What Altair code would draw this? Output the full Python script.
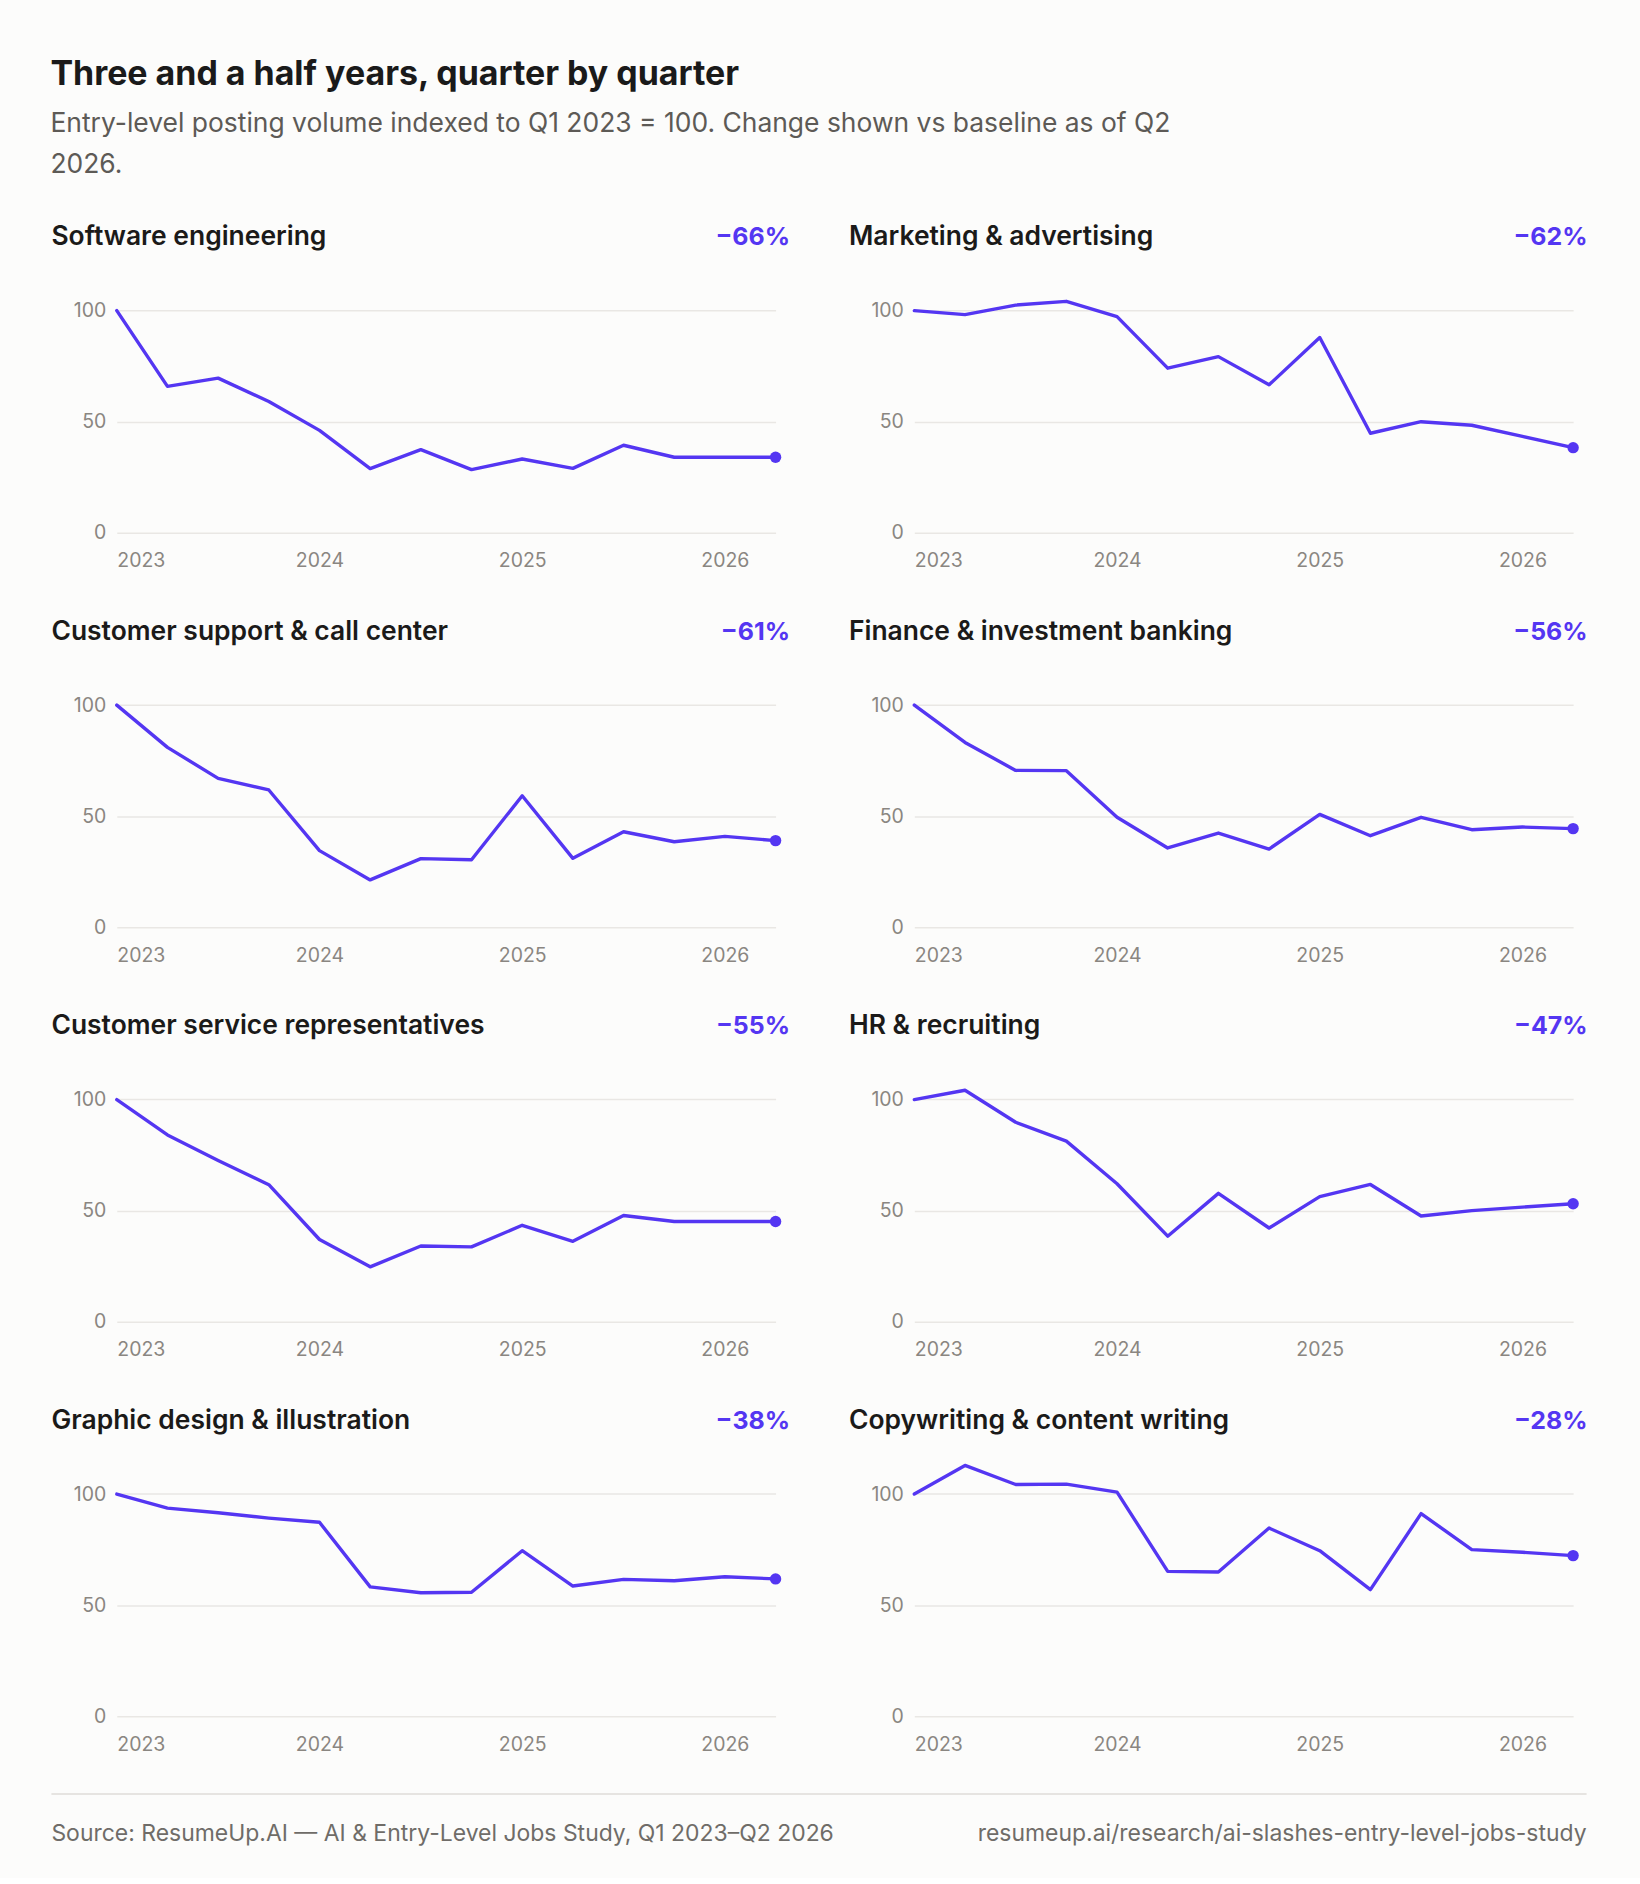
import altair as alt
import pandas as pd

# ---------------- data ----------------
quarter_labels = ["Q1 2023", "Q2 2023", "Q3 2023", "Q4 2023",
                  "Q1 2024", "Q2 2024", "Q3 2024", "Q4 2024",
                  "Q1 2025", "Q2 2025", "Q3 2025", "Q4 2025",
                  "Q1 2026", "Q2 2026"]
quarter_pos = [2023.0, 2023.25, 2023.5, 2023.75,
               2024.0, 2024.25, 2024.5, 2024.75,
               2025.0, 2025.25, 2025.5, 2025.75,
               2026.0, 2026.25]

categories = ["Software engineering", "Marketing & advertising",
              "Customer support & call center", "Finance & investment banking",
              "Customer service representatives", "HR & recruiting",
              "Graphic design & illustration", "Copywriting & content writing"]
changes = ["\u221266%", "\u221262%", "\u221261%", "\u221256%",
           "\u221255%", "\u221247%", "\u221238%", "\u221228%"]

software = [100, 65.9, 69.6, 59.1, 46.1, 28.9, 37.4, 28.4, 33.2, 29.0, 39.4, 34.0, 34.0, 34.0]
marketing = [100, 98.2, 102.5, 104.2, 97.3, 74.1, 79.3, 66.6, 87.9, 44.8, 50.0, 48.4, 43.4, 38.3]
support = [100, 81.0, 67.0, 61.8, 34.5, 21.3, 30.9, 30.4, 59.2, 31.0, 43.0, 38.5, 40.9, 39.0]
finance = [100, 83.2, 70.6, 70.5, 49.5, 35.7, 42.4, 35.2, 50.8, 41.2, 49.5, 43.9, 45.1, 44.4]
csr = [100, 84.1, 72.6, 61.7, 37.0, 24.7, 34.1, 33.7, 43.4, 36.2, 47.8, 45.1, 45.1, 45.1]
hr = [100, 104.2, 89.8, 81.3, 62.1, 38.5, 57.8, 42.2, 56.3, 61.8, 47.6, 50.0, 51.6, 53.1]
graphic = [100, 93.7, 91.6, 89.2, 87.3, 58.2, 55.6, 55.8, 74.5, 58.6, 61.6, 61.0, 62.8, 61.8]
copywriting = [100, 112.9, 104.3, 104.5, 100.9, 65.2, 64.9, 84.7, 74.5, 57.0, 91.2, 75.0, 73.8, 72.3]

series = [software, marketing, support, finance, csr, hr, graphic, copywriting]

year_ticks = [2023, 2024, 2025, 2026]
y_ticks = [0, 50, 100]

title_text = "Three and a half years, quarter by quarter"
subtitle_lines = ["Entry-level posting volume indexed to Q1 2023 = 100. Change shown vs baseline as of Q2",
                  "2026."]
source_text = "Source: ResumeUp.AI \u2014 AI & Entry-Level Jobs Study, Q1 2023\u2013Q2 2026"
url_text = "resumeup.ai/research/ai-slashes-entry-level-jobs-study"

# ---------------- tables ----------------
rows = []
for cat, vals in zip(categories, series):
    for lab, pos, v in zip(quarter_labels, quarter_pos, vals):
        rows.append({"category": cat, "quarter": pos, "qlabel": lab, "value": v})
df = pd.DataFrame(rows)
info_df = pd.DataFrame({"category": categories, "change": changes})
footer_df = pd.DataFrame({"left": [source_text], "right": [url_text]})

# ---------------- styling ----------------
PURPLE = "#5436f2"
FONT = "Inter"
W, H = 660, 267
LEFT_EXT = 65.5           # panel title starts this far left of the plot area
FULL_W = 1538             # width of the content column


def panel(name):
    x = alt.X("quarter:Q",
              scale=alt.Scale(domain=[2023, 2026.25], nice=False, zero=False),
              axis=alt.Axis(values=year_ticks, format="d", labelFlush=True, grid=False,
                            domain=False, ticks=False, labelPadding=19, title=None))
    y = alt.Y("value:Q",
              scale=alt.Scale(domain=[0, 120], nice=False),
              axis=alt.Axis(values=y_ticks, grid=True, domain=False, ticks=False,
                            labelPadding=11, title=None))
    base = alt.Chart(df).transform_filter(alt.datum.category == name)
    line = base.mark_line(color=PURPLE, strokeWidth=3.4, strokeJoin="round",
                          strokeCap="round").encode(x=x, y=y)
    dot = base.transform_filter(alt.datum.qlabel == "Q2 2026").mark_circle(
        color=PURPLE, size=130, opacity=1).encode(x=x, y=y)
    info = alt.Chart(info_df).transform_filter(alt.datum.category == name)
    ttl = info.mark_text(align="left", baseline="middle", font=FONT, fontSize=26.5,
                         fontWeight=600, color="#1b1a19").encode(
        x=alt.value(-LEFT_EXT), y=alt.value(-29), text="category:N")
    pct = info.mark_text(align="right", baseline="middle", font=FONT, fontSize=25,
                         fontWeight=700, color=PURPLE).encode(
        x=alt.value(674.5), y=alt.value(-29), text="change:N")
    return alt.layer(line, dot, ttl, pct).properties(width=W, height=H)


grid_rows = []
for r in range(4):
    grid_rows.append(alt.hconcat(panel(categories[2 * r]), panel(categories[2 * r + 1]),
                                 spacing=58))
grid = alt.vconcat(*grid_rows, spacing=48.2)

fbase = alt.Chart(footer_df)
frule = fbase.mark_rule(color="#e6e4e1", strokeWidth=2).encode(
    x=alt.value(-LEFT_EXT), x2=alt.value(FULL_W - LEFT_EXT), y=alt.value(0))
fleft = fbase.mark_text(align="left", baseline="middle", font=FONT, fontSize=23,
                        color="#6f6c68").encode(x=alt.value(-LEFT_EXT), y=alt.value(40),
                                                text="left:N")
fright = fbase.mark_text(align="right", baseline="middle", font=FONT, fontSize=23,
                         color="#6f6c68").encode(x=alt.value(FULL_W - LEFT_EXT), y=alt.value(40),
                                                 text="right:N")
footer = alt.layer(frule, fleft, fright).properties(width=FULL_W - 2 * LEFT_EXT, height=50)

chart = alt.vconcat(grid, footer, spacing=38.5).properties(
    title=alt.TitleParams(
        text=title_text, subtitle=subtitle_lines, anchor="start", frame="bounds",
        font=FONT, fontSize=34, fontWeight=700, color="#1a1a1a",
        subtitleFont=FONT, subtitleFontSize=26.5, subtitleColor="#5d5a56",
        subtitleLineHeight=41, subtitlePadding=18.7, offset=46.2),
    padding={"left": 50, "right": 52, "top": 56, "bottom": 30},
    background="#fcfcfb",
).configure_view(stroke=None).configure_axis(
    labelFont=FONT, labelFontSize=19.5, labelColor="#8a8681",
    gridColor="#e9e7e4", gridWidth=1.5,
)

chart.save("out.html", embed_options={"renderer": "svg", "actions": False})
